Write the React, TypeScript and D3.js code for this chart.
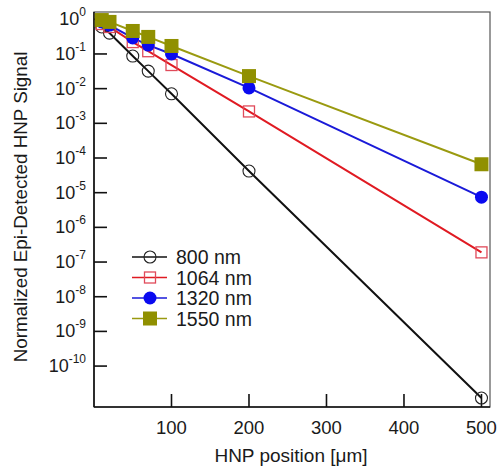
import React from "react";
import * as d3 from "d3";

const positions = [10, 20, 50, 70, 100, 200, 500];
const nm800 = [0.6, 0.4, 0.087, 0.032, 0.0071, 4.2e-5, 1.2e-11];
const nm1064 = [0.73, 0.6, 0.22, 0.12, 0.048, 2.2e-3, 1.9e-7];
const nm1320 = [0.84, 0.68, 0.29, 0.18, 0.1, 0.0105, 7.4e-6];
const nm1550 = [0.95, 0.84, 0.46, 0.31, 0.17, 0.023, 6.6e-5];
const seriesNames = ["800 nm", "1064 nm", "1320 nm", "1550 nm"];
const xTicks = [100, 200, 300, 400, 500];
const yExponents = [0, -1, -2, -3, -4, -5, -6, -7, -8, -9, -10];

const W = 497, H = 468;
const L = 94, R = 490, T = 12, B = 407;
const FONT = "Liberation Sans, Arial, sans-serif";

const series = [
  { name: seriesNames[0], values: nm800, color: "#111111", mColor: "#222222", marker: "circle", filled: false },
  { name: seriesNames[1], values: nm1064, color: "#e01a22", mColor: "#e04a5a", marker: "square", filled: false },
  { name: seriesNames[2], values: nm1320, color: "#1a1ad8", mColor: "#0a0af0", marker: "circle", filled: true },
  { name: seriesNames[3], values: nm1550, color: "#9a9a10", mColor: "#909000", marker: "square", filled: true },
];

function Marker({ s, cx, cy }: any) {
  if (s.marker === "circle") {
    return s.filled ? (
      <circle cx={cx} cy={cy} r={6.5} fill={s.mColor} stroke="none" />
    ) : (
      <circle cx={cx} cy={cy} r={6} fill="none" stroke={s.mColor} strokeWidth={1.1} />
    );
  }
  return s.filled ? (
    <rect x={cx - 7} y={cy - 7} width={14} height={14} fill={s.mColor} stroke="none" />
  ) : (
    <rect x={cx - 5.5} y={cy - 5.5} width={11} height={11} fill="none" stroke={s.mColor} strokeWidth={1.3} />
  );
}

export default function App() {
  const x = d3.scaleLinear().domain([0, 511]).range([L, R]);
  const y = d3.scaleLog().domain([Math.pow(10, -11.18), Math.pow(10, 0.21)]).range([B, T]);
  const line = d3
    .line<number>()
    .x((_, i) => x(positions[i]))
    .y((d) => y(d));

  const legendY0 = 257;
  const legendDy = 20.5;

  return (
    <svg width={W} height={H} style={{ position: "absolute", left: 0, top: 0, background: "#fff" }} fontFamily={FONT}>
      {/* frame */}
      <rect x={L} y={T} width={R - L} height={B - T} fill="none" stroke="#555" strokeWidth={1.2} />
      <line x1={L} y1={T} x2={L} y2={B} stroke="#111" strokeWidth={1.6} />
      <line x1={L} y1={B} x2={R} y2={B} stroke="#111" strokeWidth={1.6} />

      {/* y ticks */}
      {yExponents.map((e) => {
        const yy = y(Math.pow(10, e));
        return (
          <g key={e}>
            <line x1={L} x2={L + 13} y1={yy} y2={yy} stroke="#111" strokeWidth={1.6} />
            <text x={86} y={yy + 6} textAnchor="end" fontSize={18} fill="#1a1a1a">
              10
              <tspan dy={-9} fontSize={12}>{e}</tspan>
            </text>
          </g>
        );
      })}

      {/* x ticks */}
      {xTicks.map((t) => (
        <g key={t}>
          <line x1={x(t)} x2={x(t)} y1={B} y2={B - 13} stroke="#111" strokeWidth={1.6} />
          <text x={x(t)} y={434} textAnchor="middle" fontSize={18.5} fill="#1a1a1a">
            {t}
          </text>
        </g>
      ))}

      {/* lines */}
      {series.map((s) => (
        <path key={s.name + "l"} d={line(s.values) || ""} fill="none" stroke={s.color} strokeWidth={2} />
      ))}
      {series.map((s) => (
        <g key={s.name + "m"}>
          {s.values.map((v, i) => (
            <Marker key={i} s={s} cx={x(positions[i])} cy={y(v)} />
          ))}
        </g>
      ))}

      {/* legend */}
      {series.map((s, i) => {
        const ly = legendY0 + i * legendDy;
        return (
          <g key={s.name + "lg"}>
            <line x1={132} x2={167} y1={ly} y2={ly} stroke={s.color} strokeWidth={1.6} />
            <Marker s={s} cx={150} cy={ly} />
            <text x={176} y={ly + 7} fontSize={19.5} fill="#1a1a1a">
              {s.name}
            </text>
          </g>
        );
      })}

      {/* axis titles */}
      <text x={291} y={462} textAnchor="middle" fontSize={19} fill="#1a1a1a">
        HNP position [μm]
      </text>
      <text
        transform={`translate(27, 207) rotate(-90)`}
        textAnchor="middle"
        fontSize={18.8}
        fill="#1a1a1a"
      >
        Normalized Epi-Detected HNP Signal
      </text>
    </svg>
  );
}
